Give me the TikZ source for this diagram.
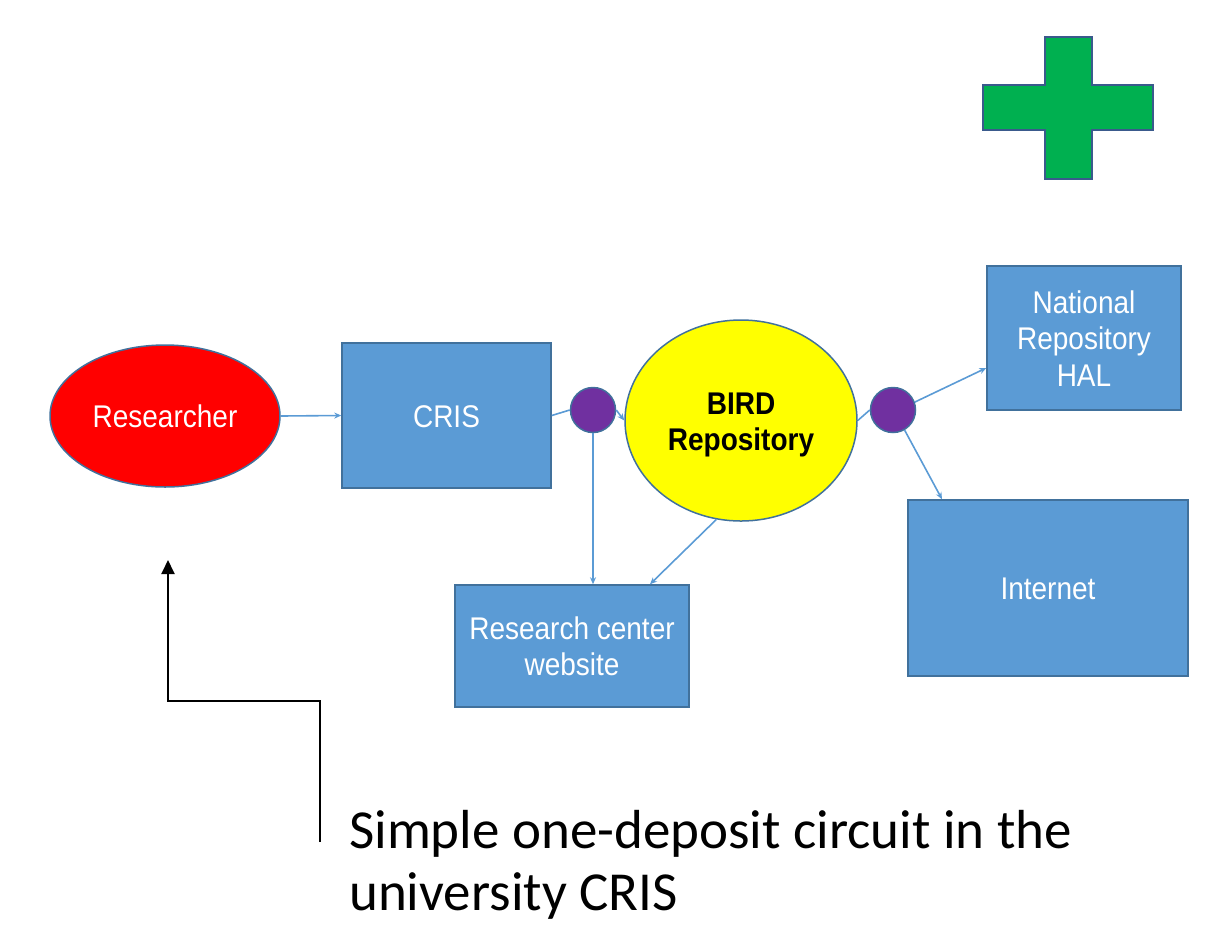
\documentclass[tikz,border=0pt]{standalone}
\usepackage{fontspec}
\usepackage{graphicx}
\setmainfont{Liberation Sans}
\newfontfamily\calibrifont{Carlito}
\usetikzlibrary{shapes.geometric,arrows.meta}
\definecolor{boxblue}{HTML}{5B9BD5}
\definecolor{boxedge}{HTML}{41719C}
\definecolor{linkblue}{HTML}{5B9BD5}
\definecolor{dotpurple}{HTML}{7030A0}
\definecolor{plusgreen}{HTML}{00B050}
\definecolor{plusedge}{HTML}{3A5A8C}
\definecolor{birdyellow}{HTML}{FFFF00}
\definecolor{resred}{HTML}{FF0000}
\newcommand{\tallt}[1]{\raisebox{-4.5pt}[\height][\depth]{\scalebox{1}[1.12]{\begin{tabular}{@{}c@{}}#1\end{tabular}}}}
\tikzset{
  nodefont/.style={font=\fontsize{28}{32.5}\selectfont},
  bluebox/.style={draw=boxedge, line width=1.5pt, fill=boxblue, text=white, nodefont, align=center, inner sep=0pt},
  dot/.style={circle, draw=boxedge, line width=1.5pt, fill=dotpurple, minimum size=45pt, inner sep=0pt},
  link/.style={draw=linkblue, line width=1.6pt},
  linkarrow/.style={link, -{Stealth[length=7pt,width=6pt]}},
}
\begin{document}
\begin{tikzpicture}[x=1pt,y=-1pt]
\useasboundingbox (0,0) rectangle (1209,946);
% plus sign
\draw[fill=plusgreen, draw=plusedge, line width=1.5pt]
  (1045,37) -- (1092,37) -- (1092,85) -- (1153,85) -- (1153,130) -- (1092,130)
  -- (1092,179) -- (1045,179) -- (1045,130) -- (983,130) -- (983,85) -- (1045,85) -- cycle;
% nodes
\node[ellipse, draw=boxedge, line width=1.5pt, fill=resred, text=white, nodefont,
      minimum width=230pt, minimum height=142pt, inner sep=0pt] (res) at (165,416) {\tallt{Researcher}};
\node[bluebox, minimum width=209pt, minimum height=145pt] (cris) at (446.5,415.5) {\tallt{CRIS}};
\node[dot] (c1) at (593,410) {};
\node[ellipse, draw=boxedge, line width=1.5pt, fill=birdyellow, text=black, align=center,
      font=\fontsize{28}{32.5}\selectfont\bfseries,
      minimum width=232pt, minimum height=201pt, inner sep=0pt] (bird) at (741,420.5) {\tallt{BIRD\\Repository}};
\node[dot] (c2) at (893,410) {};
\node[bluebox, minimum width=194pt, minimum height=144pt] (hal) at (1084,338) {\tallt{National\\Repository\\HAL}};
\node[bluebox, minimum width=280pt, minimum height=176pt] (int) at (1048,588) {\tallt{Internet}};
\node[bluebox, minimum width=234pt, minimum height=122pt] (web) at (572,646) {\tallt{Research center\\website}};
% connectors
\draw[linkarrow] (res.east) -- (cris.west);
\draw[link] (cris.east) -- (c1.west);
\draw[linkarrow] (c1.east) -- (bird.west);
\draw[linkarrow] (c1.south) -- (c1.south |- web.north);
\draw[linkarrow] (bird.256) -- ([xshift=78pt]web.north);
\draw[link] (bird.east) -- (c2.west);
\draw[linkarrow] (c2.20) -- ([yshift=-30pt]hal.west);
\draw[linkarrow] (c2.-60) -- ([xshift=-106pt]int.north);
% caption and pointer
\coordinate (ptrstart) at (320,842);
\coordinate (ptrbend) at (168,701);
\coordinate (ptrtip) at (168,560);
\draw[black, line width=2pt, -{Triangle[length=14pt,width=13pt]}] (ptrstart) |- (ptrbend) -- (ptrtip);
\node[anchor=north west, inner sep=0pt, align=left, text=black,
      font=\calibrifont\fontsize{55}{62}\selectfont] (cap) at (349,810)
  {Simple one-deposit circuit in the\\university CRIS};
\end{tikzpicture}
\end{document}
